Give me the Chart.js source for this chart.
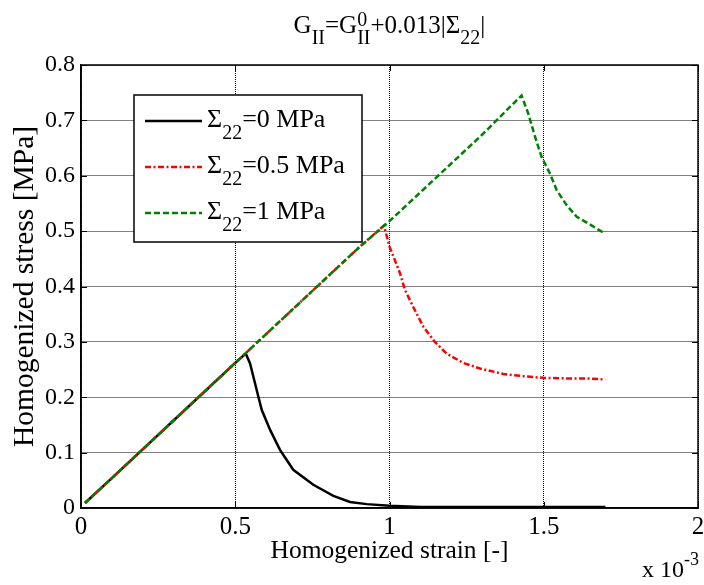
<!DOCTYPE html>
<html>
<head>
<meta charset="utf-8">
<script src="https://cdn.jsdelivr.net/npm/chart.js@4.4.0/dist/chart.umd.min.js"></script>
<style>
html, body { margin: 0; padding: 0; background: #fff; }
canvas { display: block; }
</style>
</head>
<body>
<canvas id="stress_chart" width="704" height="585"></canvas>
<script>
// strain is given in units of 1e-3 (the "x 10^-3" under the axis)
var strain_s0 = [0.013, 0.1, 0.2, 0.3, 0.4, 0.5, 0.534, 0.548, 0.575, 0.586, 0.613, 0.645, 0.688, 0.753, 0.818, 0.872, 0.926, 1.0, 1.1, 1.3, 1.5, 1.7];
var stress_s0 = [0.009, 0.054, 0.106, 0.158, 0.210, 0.262, 0.279, 0.261, 0.201, 0.177, 0.141, 0.105, 0.069, 0.042, 0.022, 0.011, 0.007, 0.004, 0.002, 0.002, 0.002, 0.002];

var strain_s05 = [0.013, 0.1, 0.2, 0.3, 0.4, 0.5, 0.6, 0.7, 0.8, 0.9, 0.982, 1.0, 1.034, 1.05, 1.077, 1.11, 1.147, 1.185, 1.239, 1.293, 1.369, 1.434, 1.499, 1.574, 1.639, 1.699];
var stress_s05 = [0.009, 0.054, 0.106, 0.158, 0.210, 0.262, 0.314, 0.366, 0.418, 0.470, 0.510, 0.472, 0.424, 0.394, 0.363, 0.327, 0.300, 0.279, 0.262, 0.252, 0.242, 0.238, 0.235, 0.234, 0.234, 0.232];

var strain_s1 = [0.013, 0.1, 0.2, 0.3, 0.4, 0.5, 0.6, 0.7, 0.8, 0.9, 1.0, 1.1, 1.2, 1.3, 1.428, 1.45, 1.472, 1.493, 1.52, 1.542, 1.574, 1.607, 1.644, 1.688, 1.70];
var stress_s1 = [0.009, 0.054, 0.106, 0.158, 0.210, 0.262, 0.314, 0.366, 0.418, 0.470, 0.518, 0.570, 0.622, 0.674, 0.745, 0.712, 0.670, 0.634, 0.604, 0.574, 0.547, 0.526, 0.514, 0.499, 0.497];

var xTicks = [0, 0.5, 1, 1.5, 2];
var yTicks = [0, 0.1, 0.2, 0.3, 0.4, 0.5, 0.6, 0.7, 0.8];
var legendValues = ['0 MPa', '0.5 MPa', '1 MPa'];

var FONT = 'Liberation Serif';
var FS = 24;

function toPoints(xs, ys) {
    return xs.map(function (x, i) { return {x: x, y: ys[i]}; });
}

// text with sub/superscripts: parts = [[text, kind], ...]
function richWidth(ctx, parts, size, k) {
    var w = 0;
    var small = Math.round(size * k);
    parts.forEach(function (p) {
        if (p[1] == 'n') {
            ctx.font = size + 'px "' + FONT + '"';
            w += ctx.measureText(p[0]).width;
        } else if (p[1] == 'subsup') {
            ctx.font = small + 'px "' + FONT + '"';
            w += Math.max(ctx.measureText(p[0][0]).width, ctx.measureText(p[0][1]).width);
        } else {
            ctx.font = small + 'px "' + FONT + '"';
            w += ctx.measureText(p[0]).width;
        }
    });
    return w;
}

function drawRich(ctx, parts, x, y, size, k, supRaise) {
    var small = Math.round(size * k);
    ctx.textBaseline = 'alphabetic';
    ctx.textAlign = 'left';
    ctx.fillStyle = '#000';
    parts.forEach(function (p) {
        if (p[1] == 'n') {
            ctx.font = size + 'px "' + FONT + '"';
            ctx.fillText(p[0], x, y);
            x += ctx.measureText(p[0]).width;
        } else if (p[1] == 'sub') {
            ctx.font = small + 'px "' + FONT + '"';
            ctx.fillText(p[0], x, y + size * 0.45);
            x += ctx.measureText(p[0]).width;
        } else if (p[1] == 'sup') {
            ctx.font = small + 'px "' + FONT + '"';
            ctx.fillText(p[0], x, y - supRaise);
            x += ctx.measureText(p[0]).width;
        } else {
            ctx.font = small + 'px "' + FONT + '"';
            ctx.fillText(p[0][0], x, y - supRaise);
            ctx.fillText(p[0][1], x, y + size * 0.45);
            x += Math.max(ctx.measureText(p[0][0]).width, ctx.measureText(p[0][1]).width);
        }
    });
}

var titleParts = [['G', 'n'], ['II', 'sub'], ['=G', 'n'], [['0', 'II'], 'subsup'], ['+0.013|\u03A3', 'n'], ['22', 'sub'], ['|', 'n']];

var datasets = [
    {
        label: '\u03A322=0 MPa',
        data: toPoints(strain_s0, stress_s0),
        borderColor: '#000000',
        borderWidth: 2.5,
        order: 3
    },
    {
        label: '\u03A322=0.5 MPa',
        data: toPoints(strain_s05, stress_s05),
        borderColor: '#ff0000',
        borderWidth: 2.5,
        borderDash: [6, 2.5, 2, 2.5],
        order: 2
    },
    {
        label: '\u03A322=1 MPa',
        data: toPoints(strain_s1, stress_s1),
        borderColor: '#008000',
        borderWidth: 2.5,
        borderDash: [6, 3],
        order: 1
    }
];

var framePlugin = {
    id: 'frame',
    afterDatasetsDraw: function (chart) {
        var ctx = chart.ctx;
        var a = chart.chartArea;
        var xs = chart.scales.x, ys = chart.scales.y;
        ctx.save();
        ctx.strokeStyle = '#000';
        ctx.lineWidth = 1.5;
        ctx.setLineDash([]);
        ctx.strokeRect(a.left, a.top, a.right - a.left, a.bottom - a.top);
        // inward tick marks on all four sides
        ctx.lineWidth = 1;
        ctx.beginPath();
        xTicks.forEach(function (v) {
            var px = Math.round(xs.getPixelForValue(v)) + 0.5;
            ctx.moveTo(px, a.bottom); ctx.lineTo(px, a.bottom - 6);
            ctx.moveTo(px, a.top); ctx.lineTo(px, a.top + 6);
        });
        yTicks.forEach(function (v) {
            var py = Math.round(ys.getPixelForValue(v)) + 0.5;
            ctx.moveTo(a.left, py); ctx.lineTo(a.left + 6, py);
            ctx.moveTo(a.right, py); ctx.lineTo(a.right - 6, py);
        });
        ctx.stroke();

        // legend
        var lx = 134, ly = 95, lw = 228, lh = 147;
        ctx.fillStyle = '#fff';
        ctx.fillRect(lx, ly, lw, lh);
        ctx.lineWidth = 1.5;
        ctx.strokeRect(lx, ly, lw, lh);
        var rows = [121, 167, 213];
        chart.data.datasets.forEach(function (ds, i) {
            ctx.save();
            ctx.strokeStyle = ds.borderColor;
            ctx.lineWidth = ds.borderWidth;
            ctx.setLineDash(ds.borderDash || []);
            ctx.beginPath();
            ctx.moveTo(145, rows[i]);
            ctx.lineTo(202, rows[i]);
            ctx.stroke();
            ctx.restore();
            drawRich(ctx, [['\u03A3', 'n'], ['22', 'sub'], ['=' + legendValues[i], 'n']], 207, rows[i] + 6, 26, 0.75, 0);
        });
        ctx.restore();
    },
    afterDraw: function (chart) {
        var ctx = chart.ctx;
        var a = chart.chartArea;
        ctx.save();
        var w = richWidth(ctx, titleParts, 25, 0.8);
        drawRich(ctx, titleParts, (a.left + a.right) / 2 - w / 2, 33, 25, 0.8, 7);
        // exponent label of the x axis
        drawRich(ctx, [['x 10', 'n'], ['-3', 'sup']], 642, 577, FS, 0.75, 12);
        ctx.restore();
    }
};

var config = {
    type: 'line',
    data: {datasets: datasets},
    options: {
        responsive: false,
        animation: false,
        devicePixelRatio: 1,
        elements: {
            point: {radius: 0},
            line: {tension: 0, fill: false}
        },
        layout: {padding: {top: 65, right: 6, left: 0, bottom: 0}},
        plugins: {
            legend: {display: false},
            tooltip: {enabled: false},
            title: {display: false}
        },
        scales: {
            x: {
                type: 'linear',
                min: 0,
                max: 2,
                afterBuildTicks: function (scale) {
                    scale.ticks = xTicks.map(function (v) { return {value: v}; });
                },
                afterFit: function (scale) {
                    scale.height = 77;
                    scale.paddingLeft = 0;
                    scale.paddingRight = 0;
                },
                grid: {color: '#000', lineWidth: 1, drawTicks: false},
                border: {color: '#000', width: 1.5, dash: [1, 1]},
                ticks: {
                    color: '#000',
                    font: {family: FONT, size: 25},
                    padding: 4,
                    maxRotation: 0,
                    autoSkip: false,
                    callback: function (v) { return String(v); }
                },
                title: {
                    display: true,
                    text: 'Homogenized strain [-]',
                    color: '#000',
                    font: {family: FONT, size: 25.5},
                    padding: {top: 0, bottom: 18}
                }
            },
            y: {
                type: 'linear',
                min: 0,
                max: 0.8,
                afterBuildTicks: function (scale) {
                    scale.ticks = yTicks.map(function (v) { return {value: v}; });
                },
                afterFit: function (scale) {
                    scale.width = 81;
                    scale.paddingTop = 0;
                    scale.paddingBottom = 0;
                },
                grid: {color: '#000', lineWidth: 1, drawTicks: false},
                border: {color: '#000', width: 1.5, dash: [1, 1]},
                ticks: {
                    color: '#000',
                    font: {family: FONT, size: FS},
                    padding: 6,
                    autoSkip: false,
                    callback: function (v) { return String(v); }
                },
                title: {
                    display: true,
                    text: 'Homogenized stress [MPa]',
                    color: '#000',
                    font: {family: FONT, size: 29.5},
                    padding: {top: 8, bottom: 0}
                }
            }
        }
    },
    plugins: [framePlugin]
};

var $element = document.getElementById('stress_chart');
var stressChart = new Chart($element.getContext('2d'), config);
</script>
</body>
</html>
